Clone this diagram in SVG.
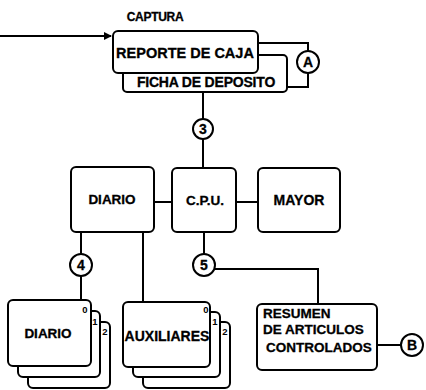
<svg xmlns="http://www.w3.org/2000/svg" width="426" height="390" viewBox="0 0 426 390">
<defs>
<style>
.b{fill:#fff;stroke:#000;stroke-width:2}
.c{fill:#fff;stroke:#000;stroke-width:2}
.l{fill:none;stroke:#000;stroke-width:2}
text{font-family:"Liberation Sans",Arial,sans-serif;font-weight:bold;fill:#000;stroke:#000;stroke-width:0.3}
.t{font-size:13.5px;text-anchor:middle}
.n{font-size:14px;text-anchor:middle}
.s{font-size:9.5px;text-anchor:middle;stroke-width:0}
</style>
<marker id="ah" markerWidth="8" markerHeight="8" refX="7" refY="4" orient="auto" markerUnits="userSpaceOnUse">
<path d="M0,0 L8,4 L0,8 Z" fill="#000"/>
</marker>
</defs>
<rect width="426" height="390" fill="#fff"/>
<g id="connectors">
<line class="l" x1="0" y1="36" x2="111" y2="36" marker-end="url(#ah)"/>
<polyline class="l" points="258,43 308,43 308,51"/>
<polyline class="l" points="287,87 308,87 308,73"/>
<line class="l" x1="203" y1="92" x2="203" y2="119"/>
<line class="l" x1="203" y1="139" x2="203" y2="168"/>
<line class="l" x1="154" y1="202" x2="172" y2="202"/>
<line class="l" x1="236" y1="202" x2="258" y2="202"/>
<line class="l" x1="81" y1="232" x2="81" y2="254"/>
<line class="l" x1="81" y1="276" x2="81" y2="300"/>
<line class="l" x1="143" y1="232" x2="143" y2="302"/>
<line class="l" x1="204" y1="232" x2="204" y2="254"/>
<polyline class="l" points="215,269 318,269 318,304"/>
<line class="l" x1="377" y1="345" x2="401" y2="345"/>
</g>
<g id="captura">
<text x="155" y="21" style="font-size:12px;text-anchor:middle;letter-spacing:-0.3px">CAPTURA</text>
</g>
<g id="ficha">
<rect class="b" x="123" y="55" width="164" height="37" rx="4"/>
<text x="206" y="87" style="font-size:14px;text-anchor:middle;letter-spacing:-0.2px">FICHA DE DEPOSITO</text>
</g>
<g id="reporte">
<rect class="b" x="113" y="31" width="145" height="42" rx="5"/>
<text x="185" y="58" style="font-size:14.5px;text-anchor:middle">REPORTE DE CAJA</text>
</g>
<g id="nodeA">
<circle class="c" cx="308" cy="62" r="11"/>
<text class="n" x="308" y="67">A</text>
</g>
<g id="node3">
<circle class="c" cx="203" cy="129" r="10"/>
<text class="n" x="203" y="134">3</text>
</g>
<g id="diario-box">
<rect class="b" x="71" y="167" width="83" height="65" rx="5"/>
<text class="t" x="112" y="204">DIARIO</text>
</g>
<g id="cpu">
<rect class="b" x="172" y="168" width="64" height="64" rx="5"/>
<text class="t" x="205" y="205">C.P.U.</text>
</g>
<g id="mayor">
<rect class="b" x="258" y="168" width="82" height="64" rx="5"/>
<text x="299" y="205" style="font-size:14px;text-anchor:middle">MAYOR</text>
</g>
<g id="node4">
<circle class="c" cx="81" cy="265" r="11"/>
<text class="n" x="81" y="270">4</text>
</g>
<g id="node5">
<circle class="c" cx="204" cy="265" r="11"/>
<text class="n" x="204" y="270">5</text>
</g>
<g id="diario-docs">
<rect class="b" x="28" y="322" width="82" height="66" rx="5"/>
<rect class="b" x="18" y="311" width="82" height="66" rx="5"/>
<rect class="b" x="8" y="300" width="83" height="66" rx="5"/>
<text class="s" x="85" y="313">0</text>
<text class="s" x="95" y="325">1</text>
<text class="s" x="105" y="335">2</text>
<text class="t" x="48" y="338">DIARIO</text>
</g>
<g id="auxiliares">
<rect class="b" x="143" y="322" width="87" height="66" rx="5"/>
<rect class="b" x="133" y="312" width="87" height="65" rx="5"/>
<rect class="b" x="123" y="302" width="87" height="65" rx="5"/>
<text class="s" x="206" y="313">0</text>
<text class="s" x="215" y="325">1</text>
<text class="s" x="225" y="335">2</text>
<text x="167" y="341" style="font-size:14px;text-anchor:middle">AUXILIARES</text>
</g>
<g id="resumen">
<rect class="b" x="257" y="304" width="120" height="66" rx="5"/>
<text x="263" y="318" style="font-size:13.5px">RESUMEN</text>
<text x="263" y="334" style="font-size:13.5px">DE ARTICULOS</text>
<text x="266" y="352" style="font-size:13.5px">CONTROLADOS</text>
</g>
<g id="nodeB">
<circle class="c" cx="412" cy="345" r="11"/>
<text class="n" x="412" y="350">B</text>
</g>
</svg>
